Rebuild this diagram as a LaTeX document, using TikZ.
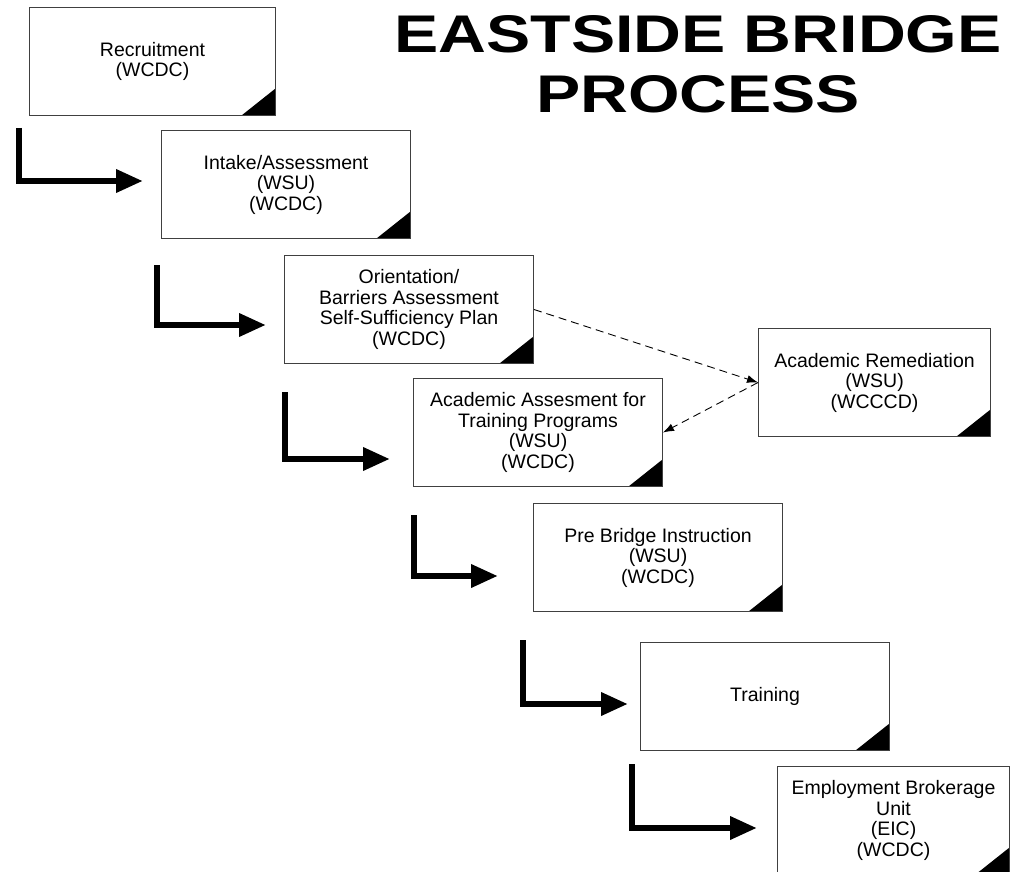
\documentclass[tikz,border=0pt]{standalone}
\usepackage{fontspec}
\setmainfont{Liberation Sans}
\newfontfamily\titlefont[FakeStretch=1.25]{Liberation Sans}
\usetikzlibrary{arrows.meta,positioning}

\begin{document}
\begin{tikzpicture}[
      x=1pt, y=-1pt,
      stage/.style={draw=black!75, line width=1pt, fill=white, align=center,
          anchor=north west, minimum width=249pt, minimum height=108pt, inner sep=0pt,
          font=\fontsize{19.5}{20.5}\selectfont,
          path picture={\fill[black] (path picture bounding box.south east)
              -- ++(-34pt,0pt) -- ++(34pt,27pt) -- cycle;}},
      flowarrow/.style={-{Triangle[length=27pt, width=22pt]}, line width=6.5pt, line join=miter},
      dasharrow/.style={-{Latex[length=11pt, width=8pt]}, line width=0.9pt,
          dash pattern=on 8pt off 5pt}
    ]
    \path[use as bounding box, fill=white] (0,0) rectangle (1014,872);
    \clip (0,0) rectangle (1014,872);

    \node[font=\titlefont\bfseries\fontsize{53}{60}\selectfont, align=center,
        anchor=north, inner sep=0pt] (title) at (698,15) {EASTSIDE BRIDGE\\PROCESS};

    \node[stage, minimum width=246pt] (recruit) at (29,7) {Recruitment\\(WCDC)};
    \node[stage] (intake) at (161,130) {Intake/Assessment\\(WSU)\\(WCDC)};
    \node[stage] (orient) at (284,255) {Orientation/\\Barriers Assessment\\Self-Sufficiency Plan\\(WCDC)};
    \node[stage] (acadassess) at (413,378) {Academic Assesment for\\Training Programs\\(WSU)\\(WCDC)};
    \node[stage] (prebridge) at (533,503) {Pre Bridge Instruction\\(WSU)\\(WCDC)};
    \node[stage] (training) at (640,642) {Training};
    \node[stage, minimum width=232pt] (employ) at (777,766) {Employment Brokerage\\Unit\\(EIC)\\(WCDC)};
    \node[stage, minimum width=232pt] (remedial) at (758,328) {Academic Remediation\\(WSU)\\(WCCCD)};

    % step arrows between the stages
    \coordinate (a1s) at (19,128);  \coordinate (a1t) at (143,181);
    \coordinate (a2s) at (157,265); \coordinate (a2t) at (266,325);
    \coordinate (a3s) at (285,392); \coordinate (a3t) at (390,459);
    \coordinate (a4s) at (414,515); \coordinate (a4t) at (498,576);
    \coordinate (a5s) at (523,640); \coordinate (a5t) at (628,704);
    \coordinate (a6s) at (632,764); \coordinate (a6t) at (757,828);
    \draw[flowarrow] (a1s) |- (a1t);
    \draw[flowarrow] (a2s) |- (a2t);
    \draw[flowarrow] (a3s) |- (a3t);
    \draw[flowarrow] (a4s) |- (a4t);
    \draw[flowarrow] (a5s) |- (a5t);
    \draw[flowarrow] (a6s) |- (a6t);

    % remediation loop
    \draw[dasharrow] (orient.east) -- (remedial.west);
    \draw[dasharrow] (remedial.west) -- (acadassess.east);
  \end{tikzpicture}
\end{document}
